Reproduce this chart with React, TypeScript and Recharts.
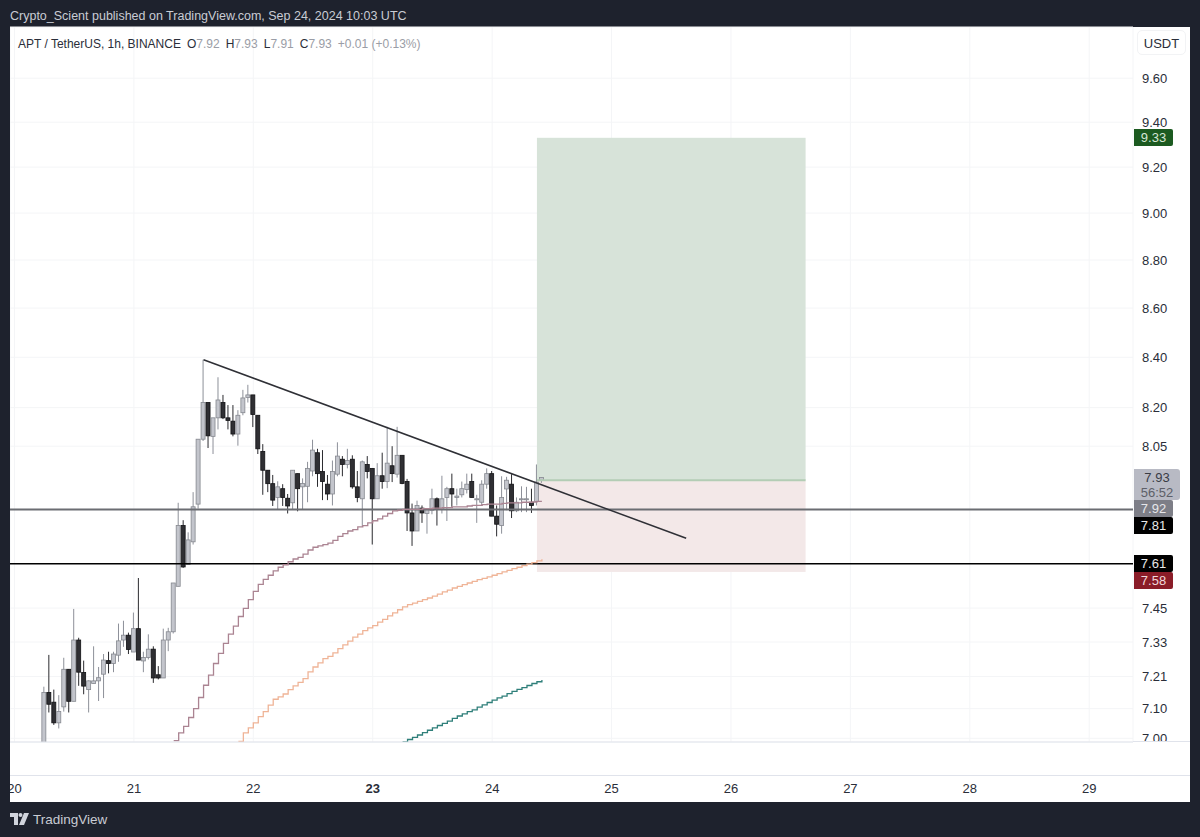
import { Bar, CartesianGrid, ComposedChart, Line, ReferenceArea, ReferenceLine, XAxis, YAxis } from 'recharts';

const FONT = '"Liberation Sans", Arial, sans-serif';

// hourly bars, first one sits 6 hours after the 20th
const firstCandle = 6;
const opens = [
  6.98, 7.155, 7.122, 7.052, 7.106, 7.235, 7.125, 7.337, 7.224, 7.165, 7.186, 7.195, 7.218, 7.265, 7.255, 7.284, 7.337, 7.354, 7.295, 7.377,
  7.264, 7.276, 7.305, 7.216, 7.205, 7.337, 7.366, 7.528, 7.75, 7.607, 7.69, 7.83, 8.077, 8.22, 8.088, 8.16, 8.22, 8.16, 8.147, 8.097,
  8.18, 8.24, 8.25, 8.17, 8.03, 7.958, 7.907, 7.855, 7.888, 7.852, 7.835, 7.945, 7.895, 7.897, 7.955, 8.025, 7.953, 7.905, 7.868, 7.943,
  8.0, 7.98, 8.0, 7.895, 7.85, 7.98, 7.965, 7.85, 7.937, 7.915, 7.975, 7.943, 8.015, 7.915, 7.797, 7.73, 7.815, 7.795, 7.807, 7.85,
  7.81, 7.855, 7.888, 7.855, 7.865, 7.885, 7.915, 7.848, 7.837, 7.905, 7.945, 7.785, 7.75, 7.887, 7.905, 7.805, 7.848, 7.848, 7.837, 7.84,
  7.92,
];
const highs = [
  7.175, 7.285, 7.165, 7.146, 7.275, 7.235, 7.447, 7.345, 7.265, 7.197, 7.315, 7.243, 7.288, 7.296, 7.296, 7.395, 7.405, 7.363, 7.434, 7.558,
  7.296, 7.357, 7.315, 7.246, 7.377, 7.38, 7.54, 7.835, 7.77, 7.725, 7.875, 8.077, 8.39, 8.22, 8.16, 8.32, 8.25, 8.21, 8.21, 8.19,
  8.27, 8.29, 8.25, 8.17, 8.058, 7.958, 7.94, 7.916, 7.905, 7.868, 7.958, 7.945, 7.927, 7.99, 8.075, 8.04, 8.035, 7.94, 7.995, 8.065,
  8.012, 8.04, 8.015, 7.955, 7.995, 8.012, 7.965, 7.985, 8.025, 8.125, 8.05, 8.125, 8.015, 7.925, 7.832, 7.843, 7.825, 7.813, 7.888, 7.855,
  7.937, 7.895, 7.945, 7.888, 7.915, 7.945, 7.945, 7.865, 7.92, 7.965, 7.955, 7.825, 7.935, 7.933, 7.943, 7.855, 7.897, 7.895, 7.888, 7.98,
  7.93,
];
const lows = [
  6.97, 7.087, 7.045, 7.033, 7.09, 7.087, 7.125, 7.178, 7.149, 7.087, 7.186, 7.126, 7.136, 7.221, 7.225, 7.261, 7.313, 7.288, 7.295, 7.267,
  7.225, 7.269, 7.188, 7.2, 7.205, 7.298, 7.36, 7.528, 7.595, 7.607, 7.68, 7.813, 8.07, 8.043, 8.02, 8.115, 8.155, 8.115, 8.088, 8.052,
  8.17, 8.22, 8.124, 8.02, 7.865, 7.875, 7.823, 7.81, 7.823, 7.795, 7.81, 7.803, 7.81, 7.837, 7.935, 7.895, 7.845, 7.845, 7.825, 7.935,
  7.935, 7.965, 7.888, 7.837, 7.745, 7.927, 7.68, 7.85, 7.888, 7.89, 7.913, 7.93, 7.905, 7.73, 7.675, 7.73, 7.76, 7.72, 7.792, 7.75,
  7.795, 7.767, 7.82, 7.825, 7.855, 7.87, 7.855, 7.76, 7.825, 7.888, 7.785, 7.71, 7.72, 7.807, 7.778, 7.8, 7.8, 7.8, 7.797, 7.825,
  7.91,
];
const closes = [
  7.155, 7.115, 7.052, 7.09, 7.235, 7.125, 7.337, 7.225, 7.177, 7.195, 7.195, 7.206, 7.267, 7.255, 7.288, 7.334, 7.354, 7.304, 7.377, 7.267,
  7.276, 7.305, 7.205, 7.205, 7.337, 7.366, 7.54, 7.75, 7.598, 7.697, 7.82, 8.077, 8.22, 8.09, 8.16, 8.23, 8.16, 8.15, 8.097, 8.17,
  8.238, 8.25, 8.173, 8.04, 7.958, 7.907, 7.845, 7.895, 7.855, 7.823, 7.958, 7.888, 7.908, 7.965, 8.035, 7.945, 7.915, 7.868, 7.953, 8.012,
  7.98, 7.995, 7.895, 7.855, 7.99, 7.953, 7.85, 7.937, 7.915, 7.985, 7.945, 8.015, 7.908, 7.797, 7.73, 7.825, 7.797, 7.81, 7.85, 7.813,
  7.85, 7.888, 7.868, 7.86, 7.888, 7.905, 7.855, 7.85, 7.905, 7.945, 7.785, 7.755, 7.855, 7.92, 7.805, 7.837, 7.85, 7.85, 7.825, 7.913,
  7.93,
];

const fastStart = 32;
const fastAvg = [
  6.992, 7.018, 7.04, 7.07, 7.1, 7.138, 7.18, 7.215, 7.255, 7.29, 7.325, 7.358, 7.386, 7.42, 7.449, 7.48, 7.51, 7.535, 7.553, 7.568,
  7.584, 7.597, 7.606, 7.617, 7.627, 7.633, 7.645, 7.66, 7.67, 7.675, 7.68, 7.685, 7.695, 7.71, 7.72, 7.73, 7.735, 7.745, 7.75, 7.76,
  7.768, 7.775, 7.785, 7.795, 7.805, 7.807, 7.81, 7.81, 7.81, 7.81, 7.813, 7.813, 7.815, 7.815, 7.817, 7.817, 7.82, 7.82, 7.82, 7.823,
  7.825, 7.825, 7.828, 7.83, 7.83, 7.83, 7.833, 7.835, 7.835, 7.835, 7.837, 7.837, 7.838, 7.84, 7.84,
];
const midStart = 45;
const midAvg = [
  6.99, 7.018, 7.035, 7.052, 7.073, 7.09, 7.112, 7.132, 7.14, 7.15, 7.165, 7.178, 7.19, 7.203, 7.226, 7.243, 7.257, 7.272, 7.28, 7.292,
  7.307, 7.32, 7.333, 7.347, 7.358, 7.37, 7.38, 7.388, 7.4, 7.41, 7.422, 7.433, 7.444, 7.454, 7.462, 7.468, 7.474, 7.48, 7.486, 7.493,
  7.5, 7.508, 7.514, 7.522, 7.528, 7.534, 7.54, 7.546, 7.552, 7.557, 7.562, 7.568, 7.574, 7.58, 7.586, 7.592, 7.597, 7.603, 7.608, 7.614,
  7.62, 7.626,
];
const slowStart = 78;
const slowAvg = [
  6.988, 6.996, 7.003, 7.011, 7.019, 7.027, 7.035, 7.043, 7.05, 7.058, 7.067, 7.075, 7.082, 7.09, 7.096, 7.105, 7.113, 7.121, 7.129, 7.137,
  7.143, 7.151, 7.159, 7.166, 7.172, 7.179, 7.186, 7.192, 7.198,
];

const priceTicks = [7, 7.1, 7.21, 7.33, 7.45, 8.05, 8.2, 8.4, 8.6, 8.8, 9, 9.2, 9.4, 9.6];
const dayLabels = ['20', '21', '22', '23', '24', '25', '26', '27', '28', '29'];
const dayTicks = dayLabels.map((_, i) => i * 24);

const hours = Array.from({ length: 225 }, (_, i) => i);
const rows = hours.map(hour => {
  const c = hour - firstCandle;
  const hasCandle = c >= 0 && c < opens.length;
  return {
    hour,
    wick: hasCandle ? [lows[c], highs[c]] : null,
    body: hasCandle ? [Math.min(opens[c], closes[c]), Math.max(opens[c], closes[c])] : null,
    up: hasCandle ? closes[c] >= opens[c] : false,
    fast: fastAvg[hour - fastStart] ?? null,
    mid: midAvg[hour - midStart] ?? null,
    slow: slowAvg[hour - slowStart] ?? null,
  };
});

const Wick = ({ x, y, width, height, payload }: any) => {
  if (!payload.wick || Number.isNaN(y)) return null;
  const cx = x + width / 2;
  return <line x1={cx} x2={cx} y1={y} y2={y + height} stroke={payload.up ? '#8d9099' : '#2b2b2f'} strokeWidth={1} />;
};

const Body = ({ x, y, width, height, payload }: any) => {
  if (!payload.body || Number.isNaN(y)) return null;
  return (
    <rect
      x={x}
      y={y}
      width={width}
      height={Math.max(height, 1)}
      fill={payload.up ? '#c3c5cc' : '#2f2f33'}
      stroke={payload.up ? '#85888f' : '#111114'}
      strokeWidth={0.8}
    />
  );
};

const DayTick = ({ x, y, payload }: any) => {
  const label = dayLabels[payload.value / 24];
  return (
    <text x={x} y={y} dy={10} textAnchor="middle" fontFamily={FONT} fontSize={13} fontWeight={label === '23' ? 700 : 400} fill="#2a2e39">
      {label}
    </text>
  );
};

// reference areas cover whole bands, the tool box starts on the bar centres
const PositionBox = ({ x, y, width, height, fill }: any) => (
  <rect x={x + 2.5} y={y} width={width - 5} height={height} fill={fill} />
);

const PriceTag = ({ top, color, text, bg }: { top: number; color: string; text: string; bg: string }) => (
  <div style={{ position: 'absolute', left: 1134, top, width: 39, height: 17, lineHeight: '17px', background: bg, color, fontSize: 13, textAlign: 'center', borderRadius: '0 2px 2px 0' }}>
    {text}
  </div>
);

const Ohlc = ({ k, v }: { k: string; v: string }) => (
  <span style={{ marginRight: 6 }}>
    {k}
    <span style={{ color: '#9a9da6' }}>{v}</span>
  </span>
);

export default function App() {
  return (
    <div style={{ position: 'absolute', left: 0, top: 0, width: 1200, height: 837, background: '#1e222d', fontFamily: FONT, overflow: 'hidden' }}>
      <div style={{ position: 'absolute', left: 10, top: 9, fontSize: 12.5, color: '#c9ccd4', whiteSpace: 'nowrap' }}>
        Crypto_Scient published on TradingView.com, Sep 24, 2024 10:03 UTC
      </div>
      <div style={{ position: 'absolute', left: 10, top: 27, width: 1180, height: 775, background: '#fff' }} />
      <div style={{ position: 'absolute', left: 10, top: 775, width: 1180, height: 1, background: '#e0e3eb' }} />

      <div style={{ position: 'absolute', left: 0, top: 0 }}>
        <ComposedChart
          width={1200}
          height={837}
          data={rows}
          margin={{ top: 27, right: 10, bottom: 35, left: 10 }}
          barSize={4}
          barGap={-4}
        >
          <CartesianGrid stroke="#f4f5f7" strokeWidth={1} />
          <XAxis
            dataKey="hour"
            type="category"
            ticks={dayTicks}
            interval={0}
            height={60}
            padding={{ left: 2, right: 1.5 }}
            tickSize={0}
            tickMargin={41}
            tickLine={false}
            axisLine={{ stroke: '#e0e3eb' }}
            tick={<DayTick />}
          />
          <YAxis
            orientation="right"
            scale="log"
            domain={[6.9876, 9.838]}
            allowDataOverflow
            ticks={priceTicks}
            interval={0}
            width={57}
            tickSize={0}
            tickMargin={9}
            tickLine={false}
            axisLine={false}
            tickFormatter={(v: number) => v.toFixed(2)}
            tick={{ fontSize: 13, fill: '#2a2e39', fontFamily: FONT }}
          />
          <ReferenceArea x1={105} x2={159} y1={7.92} y2={9.33} fill="#d7e3d9" fillOpacity={1} stroke="none" shape={<PositionBox />} />
          <ReferenceArea x1={105} x2={159} y1={7.58} y2={7.92} fill="#f3e8e8" fillOpacity={1} stroke="none" shape={<PositionBox />} />
          <ReferenceLine segment={[{ x: 105, y: 7.92 }, { x: 159, y: 7.92 }]} stroke="#b3cdb5" strokeWidth={2} />
          <ReferenceLine y={7.81} stroke="#6b6d72" strokeWidth={2} />
          <ReferenceLine y={7.61} stroke="#000" strokeWidth={1.5} />
          <Line dataKey="fast" type="stepAfter" stroke="#ab8492" strokeWidth={1.3} dot={false} isAnimationActive={false} />
          <Line dataKey="mid" type="stepAfter" stroke="#efb497" strokeWidth={1.3} dot={false} isAnimationActive={false} />
          <Line dataKey="slow" type="stepAfter" stroke="#2f7f7a" strokeWidth={1.3} dot={false} isAnimationActive={false} />
          <Bar dataKey="wick" shape={<Wick />} isAnimationActive={false} />
          <Bar dataKey="body" shape={<Body />} isAnimationActive={false} />
          <ReferenceLine segment={[{ x: 38, y: 8.39 }, { x: 135, y: 7.703 }]} stroke="#2f3036" strokeWidth={1.5} />
        </ComposedChart>
      </div>

      {/* trims the clipped left day label and the bottom tick */}
      <div style={{ position: 'absolute', left: 0, top: 27, width: 10, height: 775, background: '#1e222d' }} />
      <div style={{ position: 'absolute', left: 1133, top: 741, width: 57, height: 20, background: '#fff', borderTop: '1px solid #e0e3eb', boxSizing: 'border-box' }} />

      <div style={{ position: 'absolute', left: 18, top: 37, fontSize: 12, color: '#2a2e39', whiteSpace: 'nowrap' }}>
        <span style={{ marginRight: 6 }}>APT / TetherUS, 1h, BINANCE</span>
        <Ohlc k="O" v="7.92" />
        <Ohlc k="H" v="7.93" />
        <Ohlc k="L" v="7.91" />
        <Ohlc k="C" v="7.93" />
        <span style={{ color: '#9a9da6' }}>+0.01 (+0.13%)</span>
      </div>

      <div style={{ position: 'absolute', left: 1137, top: 30, width: 49, height: 25, lineHeight: '25px', textAlign: 'center', fontSize: 13, color: '#2a2e39', background: '#fff', border: '1px solid #f2f3f5', borderRadius: 5, boxSizing: 'border-box' }}>
        USDT
      </div>

      <PriceTag top={129} bg="#1c5a20" color="#d6e6d6" text="9.33" />
      <div style={{ position: 'absolute', left: 1134, top: 469, width: 46, height: 31, background: '#b8bac4', borderRadius: '0 3px 3px 0', fontSize: 13, lineHeight: '15px', textAlign: 'center', color: '#3a3c44', paddingTop: 1, boxSizing: 'border-box' }}>
        <div>7.93</div>
        <div style={{ color: '#5d5f68' }}>56:52</div>
      </div>
      <PriceTag top={500} bg="#7d7e87" color="#e6e6ea" text="7.92" />
      <PriceTag top={517} bg="#000" color="#e8e8e8" text="7.81" />
      <PriceTag top={555} bg="#000" color="#e8e8e8" text="7.61" />
      <PriceTag top={572} bg="#8a1c28" color="#f0d8da" text="7.58" />

      <svg style={{ position: 'absolute', left: 10, top: 812 }} width={20} height={14} viewBox="0 0 20 14">
        <path d="M0 1h8v12H4V5H0z" fill="#d1d4dc" />
        <circle cx={10.5} cy={3} r={2} fill="#d1d4dc" />
        <path d="M14 1h5l-5 12H9z" fill="#d1d4dc" />
      </svg>
      <div style={{ position: 'absolute', left: 33, top: 812, fontSize: 13.5, color: '#c9ccd4', whiteSpace: 'nowrap' }}>TradingView</div>
    </div>
  );
}
